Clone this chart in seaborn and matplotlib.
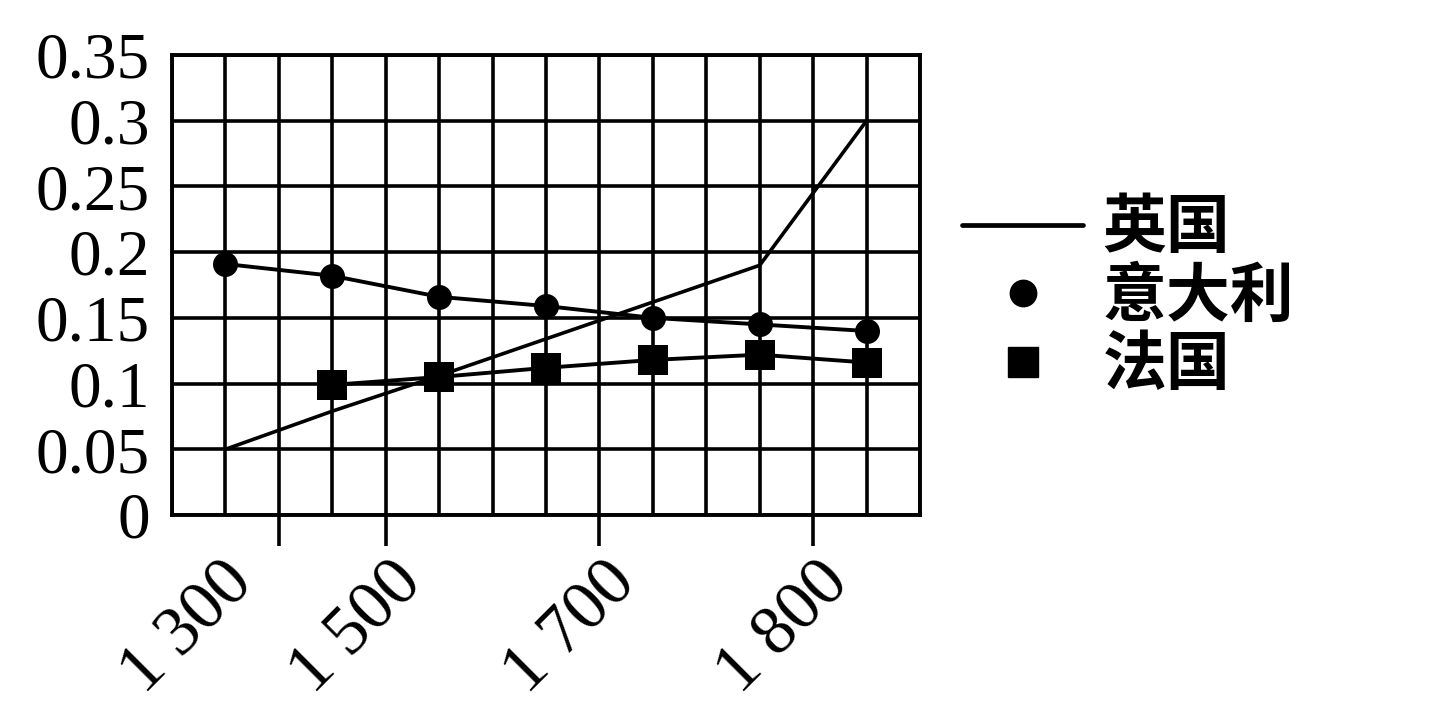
import pandas as pd
import seaborn as sns
import matplotlib.pyplot as plt
from matplotlib.lines import Line2D
from matplotlib.transforms import ScaledTranslation

# -------- data --------
point_idx = [1, 3, 5, 7, 9, 11, 13]
uk = [0.05, 0.079, 0.106, 0.134, 0.162, 0.19, 0.30]
italy = [0.191, 0.182, 0.166, 0.159, 0.15, 0.145, 0.14]
france_idx = [3, 5, 7, 9, 11, 13]
france = [0.099, 0.105, 0.112, 0.118, 0.122, 0.116]
tick_idx = [2, 4, 8, 12]
tick_labels = ["1 300", "1 500", "1 700", "1 800"]
y_ticks = [0, 0.05, 0.1, 0.15, 0.2, 0.25, 0.3, 0.35]
y_labels = ["0", "0.05", "0.1", "0.15", "0.2", "0.25", "0.3", "0.35"]
names = ["英国", "意大利", "法国"]

sns.set_theme(style="white")
plt.rcParams["font.family"] = ["Liberation Serif", "Noto Sans CJK SC"]
plt.rcParams["text.color"] = "black"
plt.rcParams["xtick.color"] = "black"
plt.rcParams["ytick.color"] = "black"

fig = plt.figure(figsize=(14.36, 7.12), dpi=100)
ax = fig.add_axes([172 / 1436, 1 - 515 / 712, 748 / 1436, 460 / 712])

# -------- lines --------
sns.lineplot(x=point_idx, y=uk, color="black", lw=2.6, ax=ax)
sns.lineplot(x=point_idx, y=italy, color="black", lw=2.8, marker="o",
             markersize=18, markeredgewidth=0, ax=ax)
sns.lineplot(x=france_idx, y=france, color="black", lw=2.8, marker="s",
             markersize=21, markeredgewidth=0, ax=ax)

# -------- axes / grid --------
ax.set_xlim(0, 14)
ax.set_ylim(0, 0.35)
ax.set_xticks(range(15), minor=True)
ax.set_xticks(tick_idx)
ax.set_xticklabels(tick_labels, rotation=45, ha="right", va="top",
                   rotation_mode="anchor", fontsize=50)
ax.set_yticks(y_ticks)
ax.set_yticklabels(y_labels, fontsize=47)
ax.grid(True, which="both", color="black", lw=2.6)
ax.set_axisbelow(True)
ax.tick_params(axis="x", which="major", length=22, width=2.6,
               pad=4, direction="out", bottom=True)
ax.tick_params(axis="x", which="minor", length=0)
ax.tick_params(axis="y", length=0, pad=16)
for s in ax.spines.values():
    s.set_color("black")
    s.set_linewidth(2.8)

# the first year label sits further left than the others
shifts = [-0.58, 0.04, 0.04, 0.04]
for lab, dx in zip(ax.get_xticklabels(), shifts):
    lab.set_transform(lab.get_transform() + ScaledTranslation(dx, 0, fig.dpi_scale_trans))

# -------- legend --------
handles = [
    Line2D([], [], color="black", lw=3.4),
    Line2D([], [], color="black", lw=0, marker="o", markersize=19),
    Line2D([], [], color="black", lw=0, marker="s", markersize=21),
]
fig.legend(handles, names, loc="center left", bbox_to_anchor=(930 / 1436, 1 - 297 / 712),
           frameon=False, handlelength=1.9, handletextpad=0.3, labelspacing=0.05,
           borderpad=0, prop={"family": ["Noto Sans CJK SC"], "size": 46, "weight": "bold"})

fig.savefig("out.png", dpi=100)
